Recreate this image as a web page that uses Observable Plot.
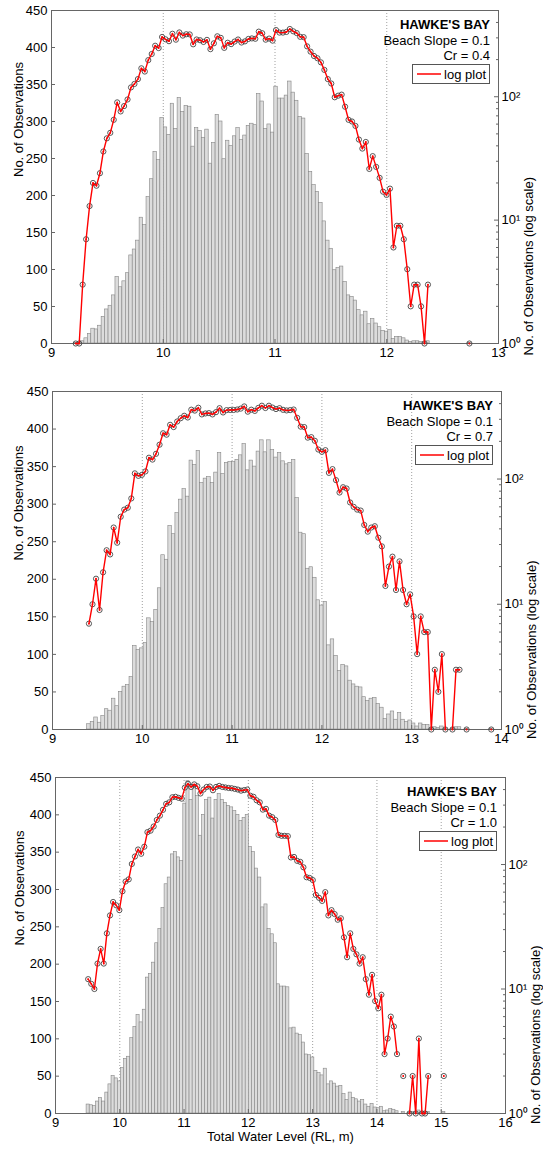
<!DOCTYPE html>
<html><head><meta charset="utf-8">
<script src="https://cdn.jsdelivr.net/npm/d3@7"></script>
<script src="https://cdn.jsdelivr.net/npm/@observablehq/plot@0.6"></script>
<style>
body{margin:0;background:#fff;}
#root{position:relative;width:543px;height:1149px;font-family:"Liberation Sans",Arial,sans-serif;overflow:hidden;}
.panel{position:absolute;left:0;width:543px;}
.panel > svg{position:absolute;left:0;top:0;}
.ann{position:absolute;text-align:right;font-size:13px;color:#000;line-height:15.5px;white-space:nowrap;}
.ann b{font-weight:bold;}
.legend{position:absolute;border:1px solid #555;background:#fff;height:20px;font-size:13px;display:flex;align-items:center;padding:0 3px 0 3px;box-sizing:border-box;white-space:nowrap;}
.legend svg{display:block;margin-right:2px;}
</style></head><body><div id="root"></div>
<script>
// ---------- data ----------
const site = "HAWKE'S BAY";
const slopeLabel = "Beach Slope = 0.1";
const crLabels = ["Cr = 0.4", "Cr = 0.7", "Cr = 1.0"];

// histogram bins: first bin centre and bin width (m)
const binStart1 = 9.217, binWidth1 = 0.0309;
const binStart2 = 9.406, binWidth2 = 0.0393;
const binStart3 = 9.508, binWidth3 = 0.04853;

const counts1 = [1,1,3,7,13,20,19,24,36,46,
 51,65,90,76,84,95,119,127,139,170,
 160,198,222,259,248,305,292,282,324,290,
 332,313,321,320,266,291,287,278,289,243,
 271,309,300,249,274,267,280,291,275,281,
 294,297,295,337,327,290,296,285,347,331,
 331,335,354,339,328,306,304,256,232,214,
 205,190,165,139,128,99,102,104,83,65,
 63,58,45,38,43,26,33,27,22,17,
 16,18,6,9,9,7,4,2,3,3,
 2,1,3,0,0,0,0,0,0,0,
 0,0,0,0,1];

const counts2 = [7,10,16,9,18,27,25,41,31,50,
 57,59,70,111,106,108,115,148,143,159,
 188,232,226,271,260,288,306,320,310,358,
 352,371,328,334,336,328,342,368,340,355,
 356,356,359,365,380,345,358,350,370,385,
 369,385,372,362,368,357,353,355,359,308,
 262,260,214,216,202,172,165,170,112,120,
 98,78,86,84,65,60,57,56,43,38,
 41,42,34,29,14,20,24,13,22,13,
 10,12,8,4,8,6,6,1,3,2,
 4,1,0,1,3,3,0,1,0,0,
 0,0,0,0,1];

const counts3 = [12,11,10,16,21,16,28,39,50,47,
 43,61,73,76,101,116,132,122,139,182,
 187,202,228,247,275,307,316,347,350,343,
 338,415,445,420,440,425,372,400,420,423,
 395,420,428,420,416,412,410,405,400,392,
 396,400,357,350,328,316,276,280,247,240,
 228,173,170,170,169,114,115,107,105,95,
 79,78,75,57,54,51,60,39,43,40,
 36,37,26,18,28,21,19,16,18,12,
 9,13,8,7,9,3,4,6,5,3,
 0,2,0,1,2,1,4,1,1,2,
 0,0,0,0,2];

const xTicks1 = [9,10,11,12,13];
const xTicks2 = [9,10,11,12,13,14];
const xTicks3 = [9,10,11,12,13,14,15,16];
const yTicks = [0,50,100,150,200,250,300,350,400,450];
const logTicks = [1,10,100];
const logTickLabels = ["10\u2070","10\u00b9","10\u00b2"];
const logMinor = [2,3,4,5,6,7,8,9,20,30,40,50,60,70,80,90,200,300,400,500];
const yLabel = "No. of Observations";
const yLabelLog = "No. of Observations (log scale)";
const xLabel = "Total Water Level (RL, m)";
const legendLabel = "log plot";

// ---------- layout ----------
const panels = [
  {top:0,   height:380, mt:10, mb:37, ml:51, mr:45, start:binStart1, width:binWidth1, counts:counts1, ticks:xTicks1, cr:crLabels[0], ldx:-33, xlab:false},
  {top:380, height:385, mt:11, mb:36, ml:52, mr:42, start:binStart2, width:binWidth2, counts:counts2, ticks:xTicks2, cr:crLabels[1], ldx:-34, xlab:false},
  {top:765, height:384, mt:12, mb:36, ml:55, mr:38, start:binStart3, width:binWidth3, counts:counts3, ticks:xTicks3, cr:crLabels[2], ldx:-36, xlab:true}
];

const root = document.getElementById("root");
const font = "'Liberation Sans', Arial, Helvetica, sans-serif";

for (const p of panels) {
  const div = document.createElement("div");
  div.className = "panel";
  div.style.top = p.top + "px";
  div.style.height = p.height + "px";
  const data = p.counts.map((c, i) => ({x: p.start + i * p.width, c}));
  const pos = data.filter(d => d.c > 0);
  const xDom = [p.ticks[0], p.ticks[p.ticks.length - 1]];
  const grid = p.ticks.slice(1, -1);
  const common = {
    width: 543, height: p.height,
    marginTop: p.mt, marginBottom: p.mb, marginLeft: p.ml, marginRight: p.mr,
    style: {fontFamily: font, fontSize: "13px", color: "#000", background: "none", overflow: "visible"}
  };
  const A = Plot.plot({
    ...common,
    x: {domain: xDom},
    y: {domain: [0, 450]},
    marks: [
      Plot.ruleX(grid, {stroke: "#888", strokeDasharray: "1,2", strokeWidth: 0.8}),
      Plot.rectY(pos, {x1: d => d.x - p.width / 2, x2: d => d.x + p.width / 2, y1: 0, y2: "c",
        fill: "#dcdcdc", stroke: "#858585", strokeWidth: 0.6}),
      Plot.frame({stroke: "#666"}),
      Plot.axisX({ticks: p.ticks, tickSize: -4, tickPadding: 8, tickFormat: d => String(d), label: null, stroke: "#666"}),
      Plot.axisY({ticks: yTicks, tickSize: -4, tickPadding: 8, tickFormat: d => String(d), label: null, stroke: "#666"}),
      Plot.text([yLabel], {frameAnchor: "left", rotate: -90, dx: p.ldx, fontSize: 13}),
      ...(p.xlab ? [Plot.text([xLabel], {frameAnchor: "bottom", dy: 27, fontSize: 13})] : [])
    ]
  });
  const B = Plot.plot({
    ...common,
    x: {domain: xDom, axis: null},
    y: {type: "log", domain: [1, 500]},
    marks: [
      Plot.dot(pos, {x: "x", y: "c", r: 2.6, stroke: "#444", strokeWidth: 0.9, fill: "none"}),
      Plot.line(data, {x: "x", y: d => d.c > 0 ? d.c : NaN, stroke: "#ff0000", strokeWidth: 1.4}),
      Plot.dot(pos, {x: "x", y: "c", r: 0.9, fill: "#ff0000"}),
      Plot.axisY({anchor: "right", ticks: logTicks, tickSize: -5, tickPadding: 8,
        tickFormat: d => logTickLabels[logTicks.indexOf(d)], label: null, stroke: "#666"}),
      Plot.axisY({anchor: "right", ticks: logMinor, tickSize: -3, tickFormat: () => "", label: null, stroke: "#666"}),
      Plot.text([yLabelLog], {frameAnchor: "right", rotate: -90, dx: 30, fontSize: 13})
    ]
  });
  div.appendChild(A);
  div.appendChild(B);

  const ann = document.createElement("div");
  ann.className = "ann";
  ann.style.top = (p.mt + 7) + "px";
  ann.style.right = (p.mr + 8) + "px";
  ann.innerHTML = "<b>" + site + "</b><br>" + slopeLabel + "<br>" + p.cr;
  div.appendChild(ann);

  const leg = document.createElement("div");
  leg.className = "legend";
  leg.style.top = (p.mt + 54) + "px";
  leg.style.right = (p.mr + 8) + "px";
  leg.innerHTML = '<svg width="26" height="6"><line x1="1" y1="3" x2="25" y2="3" stroke="#ff0000" stroke-width="1.5"/></svg><span>' + legendLabel + '</span>';
  div.appendChild(leg);

  root.appendChild(div);
}
</script>
</body></html>
